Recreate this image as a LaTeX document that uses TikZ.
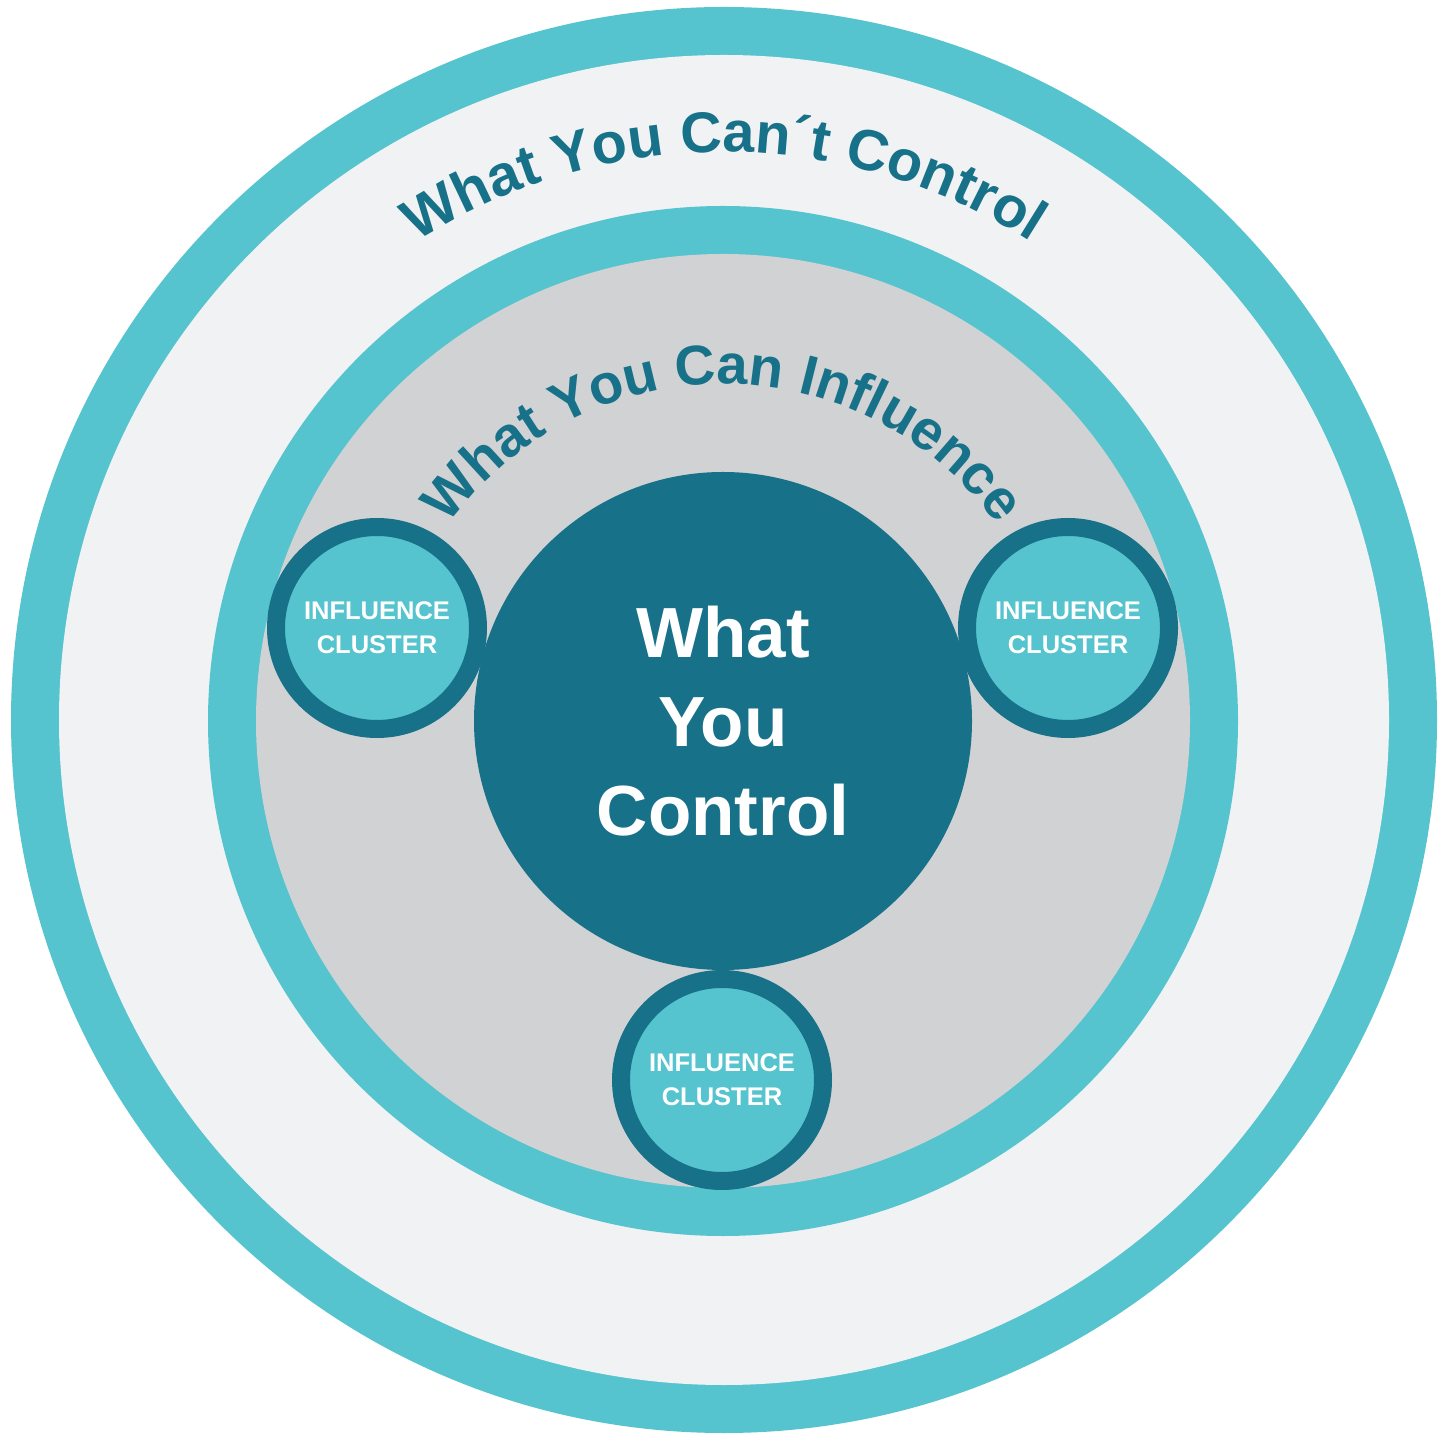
\documentclass[tikz,border=0pt]{standalone}
\usepackage{fontspec}
\setmainfont{Liberation Sans}
\usetikzlibrary{decorations.text,calc}
\definecolor{tlight}{HTML}{55C4CE}
\definecolor{tdark}{HTML}{177188}
\definecolor{gl}{HTML}{F1F2F4}
\definecolor{gm}{HTML}{D1D2D4}
\newcommand\arcfontA{\bfseries\fontsize{57.5}{58}\selectfont\color{tdark}}
\newcommand\arcfontB{\bfseries\fontsize{56}{56}\selectfont\color{tdark}}
\begin{document}
\begin{tikzpicture}[x=1pt,y=1pt,
  cluster/.style={circle, draw=tdark, line width=18pt, fill=tlight, minimum size=202pt, inner sep=0pt,
    text=white, align=center, font=\bfseries\fontsize{25.5}{34}\selectfont},
  core/.style={circle, fill=tdark, minimum size=498pt, inner sep=0pt,
    text=white, align=center, font=\bfseries\fontsize{71}{89}\selectfont}]
\useasboundingbox (0,0) rectangle (1450,1433);
\fill[white] (0,0) rectangle (1450,1433);
\coordinate (C) at (724,713);
\coordinate (M) at (723,712);
\fill[tlight] (C) circle[radius=713];
\fill[gl] (C) circle[radius=665];
\fill[tlight] (M) circle[radius=515];
\fill[gm] (M) circle[radius=467];
\node[core] (ctrl) at (M) {What\\You\\Control};
\node[cluster] (left) at (377,805) {INFLUENCE\\CLUSTER};
\node[cluster] (right) at (1068,805) {INFLUENCE\\CLUSTER};
\node[cluster] (bottom) at (722,353) {INFLUENCE\\CLUSTER};
\path[decorate, decoration={text along path, text align=center,
  text={|\arcfontA|What You Can´t Control}}]
  ($(C)+(150:568)$) arc[start angle=150, end angle=30, radius=568];
\path[decorate, decoration={text along path, text align=center,
  text={|\arcfontB|What You Can Influence}}]
  ($(M)+(170:337)$) arc[start angle=170, end angle=10, radius=337];
\end{tikzpicture}
\end{document}
